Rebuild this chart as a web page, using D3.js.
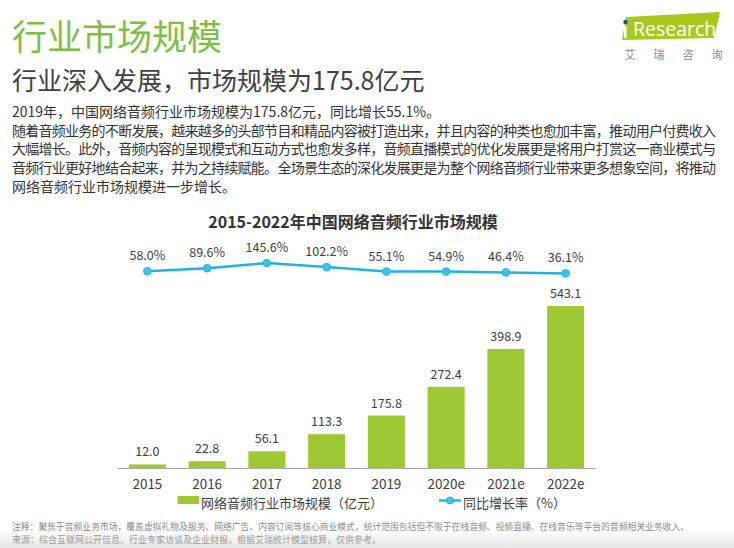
<!DOCTYPE html>
<html><head><meta charset="utf-8">
<script src="https://cdn.jsdelivr.net/npm/d3@7"></script>
<style>
html,body{margin:0;padding:0;background:#fff;}
svg{display:block;font-family:"Noto Sans CJK SC","Noto Sans",sans-serif;}
</style></head>
<body>
<svg id="c" width="734" height="548"></svg>
<script>
const years = ['2015','2016','2017','2018','2019','2020e','2021e','2022e'];
const marketSize = [12.0,22.8,56.1,113.3,175.8,272.4,398.9,543.1];
const growth = [58.0,89.6,145.6,102.2,55.1,54.9,46.4,36.1];
const growthLabels = ['58.0%','89.6%','145.6%','102.2%','55.1%','54.9%','46.4%','36.1%'];
const title = '行业市场规模';
const subtitle = '行业深入发展，市场规模为175.8亿元';
const paragraph = [
 '2019年，中国网络音频行业市场规模为175.8亿元，同比增长55.1%。',
 '随着音频业务的不断发展，越来越多的头部节目和精品内容被打造出来，并且内容的种类也愈加丰富，推动用户付费收入',
 '大幅增长。此外，音频内容的呈现模式和互动方式也愈发多样，音频直播模式的优化发展更是将用户打赏这一商业模式与',
 '音频行业更好地结合起来，并为之持续赋能。全场景生态的深化发展更是为整个网络音频行业带来更多想象空间，将推动',
 '网络音频行业市场规模进一步增长。'
];
const chartTitle = '2015-2022年中国网络音频行业市场规模';
const legendBar = '网络音频行业市场规模（亿元）';
const legendLine = '同比增长率（%）';
const notes = [
 '注释：聚焦于音频业务市场，覆盖虚拟礼物及服务、网络广告、内容订阅等核心商业模式，统计范围包括但不限于在线音频、视频直播、在线音乐等平台的音频相关业务收入。',
 '来源：综合互联网公开信息、行业专家访谈及企业财报，根据艾瑞统计模型核算，仅供参考。'
];

const svg = d3.select('#c');
const BAR = '#9fc932', LINE = '#22b3dd';

// bottom faint gradient
const defs = svg.append('defs');
const g1 = defs.append('linearGradient').attr('id','bg').attr('x1',0).attr('y1',0).attr('x2',0).attr('y2',1);
g1.append('stop').attr('offset','0%').attr('stop-color','#fff');
g1.append('stop').attr('offset','100%').attr('stop-color','#e6e6e6');
svg.append('rect').attr('x',0).attr('y',530).attr('width',734).attr('height',18).attr('fill','url(#bg)');

// header
svg.append('text').attr('x',12).attr('y',50).attr('font-size',35).attr('fill','#7cc043').text(title);
svg.append('text').attr('x',12).attr('y',90).attr('font-size',25).attr('fill','#404040').text(subtitle);

// logo
svg.append('path').attr('d','M626,17 L720,12 L714,38 L622,40 Z').attr('fill','#a8c81e');
svg.append('text').attr('x',633).attr('y',35.5).attr('font-size',19.5).attr('fill','#fff')
  .attr('font-family','"Open Sans","DejaVu Sans",sans-serif').text('Research');
svg.append('rect').attr('x',624).attr('y',26).attr('width',2.6).attr('height',12).attr('fill','#fff');
svg.append('circle').attr('cx',625.5).attr('cy',22).attr('r',2.2).attr('fill','#1d4f9c');
['艾','瑞','咨','询'].forEach((c,i)=>{
  svg.append('text').attr('x',630+i*29).attr('y',59).attr('font-size',11).attr('fill','#8a8a8a')
    .attr('text-anchor','middle').text(c);
});

// paragraph
paragraph.forEach((t,i)=>{
  const tx = svg.append('text').attr('x',12).attr('y',117+i*18.7).attr('font-size',14).attr('fill','#333').text(t);
  if (i>=1 && i<=3) tx.attr('textLength',704).attr('lengthAdjust','spacing');
});

// chart title
svg.append('text').attr('x',353).attr('y',228).attr('text-anchor','middle').attr('font-size',16)
  .attr('font-weight','bold').attr('fill','#333').text(chartTitle);

// scales
const x = d3.scaleBand().domain(years).range([117.5,595.5]).paddingInner(0.38).paddingOuter(0.19);
const y = d3.scaleLinear().domain([0,543.1]).range([468,306]);
const yl = d3.scaleLinear().domain([0,145.6]).range([276.8,263]);

// bars
svg.append('g').selectAll('rect').data(marketSize).join('rect')
  .attr('x',(d,i)=>x(years[i])).attr('width',x.bandwidth())
  .attr('y',d=>y(d)).attr('height',d=>y(0)-y(d)).attr('fill',BAR);
svg.append('g').selectAll('text').data(marketSize).join('text')
  .attr('x',(d,i)=>x(years[i])+x.bandwidth()/2).attr('y',d=>y(d)-8)
  .attr('text-anchor','middle').attr('font-size',12.5).attr('fill','#404040')
  .text(d=>d.toFixed(1));

// x axis
const ax = svg.append('g').attr('transform','translate(0,468)').call(d3.axisBottom(x).tickSize(0).tickPadding(11));
ax.select('.domain').attr('stroke','#a6a6a6').attr('stroke-width',1.2);
ax.selectAll('text').attr('font-size',13.5).attr('fill','#404040')
  .attr('font-family','"Noto Sans CJK SC","Noto Sans",sans-serif');

// line
const cx = (i)=>x(years[i])+x.bandwidth()/2;
const line = d3.line().x((d,i)=>cx(i)).y(d=>yl(d));
svg.append('path').datum(growth).attr('d',line).attr('fill','none').attr('stroke',LINE).attr('stroke-width',2.5);
svg.append('g').selectAll('circle').data(growth).join('circle')
  .attr('cx',(d,i)=>cx(i)).attr('cy',d=>yl(d)).attr('r',3.8).attr('fill','#3cc3ea').attr('stroke',LINE).attr('stroke-width',1);
svg.append('g').selectAll('text').data(growth).join('text')
  .attr('x',(d,i)=>cx(i)).attr('y',d=>yl(d)-11)
  .attr('text-anchor','middle').attr('font-size',12.5).attr('fill','#404040')
  .text((d,i)=>growthLabels[i]);

// legend
svg.append('rect').attr('x',177.5).attr('y',496).attr('width',21.5).attr('height',8).attr('fill',BAR);
svg.append('text').attr('x',201).attr('y',508).attr('font-size',13).attr('fill','#404040').text(legendBar);
svg.append('line').attr('x1',439).attr('x2',461).attr('y1',500.5).attr('y2',500.5).attr('stroke',LINE).attr('stroke-width',2.5);
svg.append('circle').attr('cx',450).attr('cy',500.5).attr('r',3.5).attr('fill','#3cc3ea').attr('stroke',LINE);
svg.append('text').attr('x',463).attr('y',508).attr('font-size',13).attr('fill','#404040').text(legendLine);

// notes
svg.append('text').attr('x',12).attr('y',530).attr('font-size',9).attr('fill','#8c8c8c')
  .attr('textLength',677).attr('lengthAdjust','spacingAndGlyphs').text(notes[0]);
svg.append('text').attr('x',12).attr('y',543).attr('font-size',9).attr('fill','#9a9a9a')
  .text(notes[1]);
</script>
</body></html>
